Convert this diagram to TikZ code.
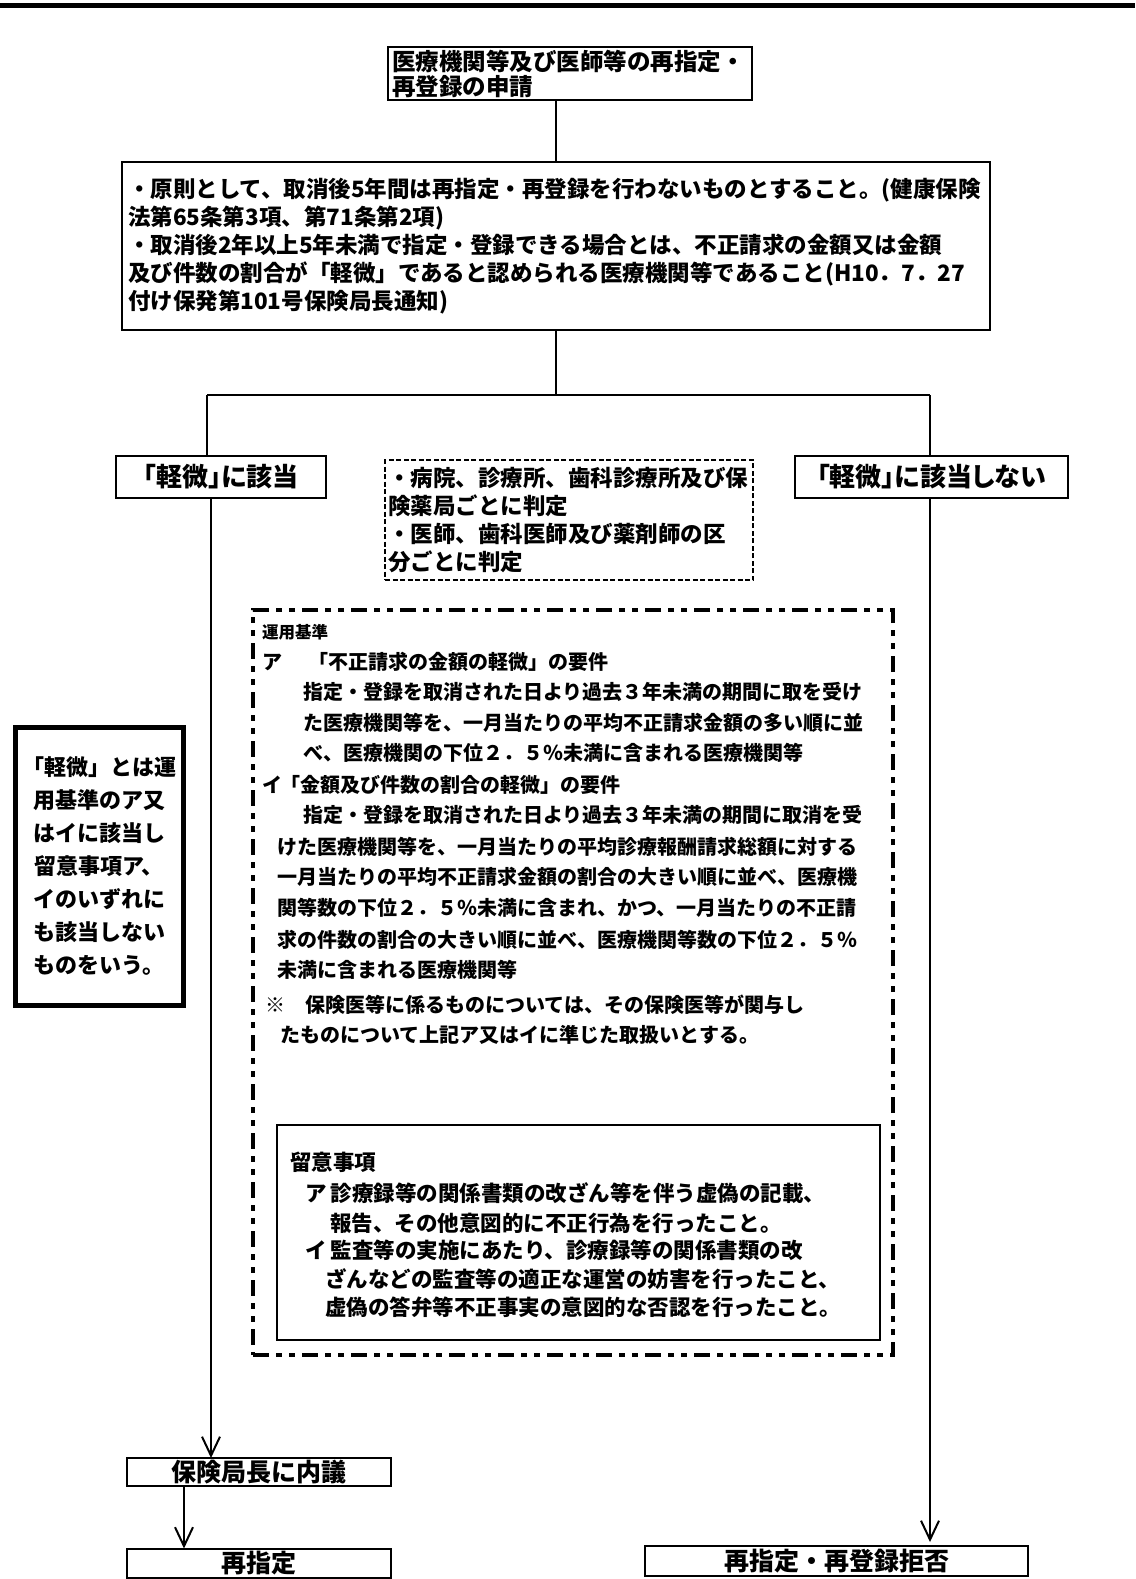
\documentclass[tikz,border=0pt]{standalone}
\usepackage{fontspec}
\setmainfont{Noto Sans CJK JP}
\newfontfamily\jpp{Noto Sans CJK JP}[RawFeature=+palt]
\usetikzlibrary{arrows.meta}
\begin{document}
\begin{tikzpicture}[x=1pt,y=-1pt,
  box/.style={draw, line width=2pt, inner sep=0pt, outer sep=0pt},
  conn/.style={line width=2pt},
  arr/.style={line width=2pt, -{Straight Barb[length=19pt,width=18pt,line width=2pt]}},
  ut/.style={inner sep=0pt, anchor=west, font=\bfseries\fontsize{20}{20}\selectfont},
  rt/.style={inner sep=0pt, anchor=west, font=\bfseries\fontsize{21.5}{21.5}\selectfont},
]
\useasboundingbox (0,0) rectangle (1135,1579);
\fill[white] (0,0) rectangle (1135,1579);
% top rule
\draw[line width=5pt] (0,6) -- (1135,6);

% top request box
\node[box, line width=2.5pt, minimum width=364pt, minimum height=53pt, text width=356pt, inner xsep=4pt, align=left,
  font=\bfseries\fontsize{23.5}{25}\selectfont] (req) at (570,73.5)
  {医療機関等及び医師等の再指定・\\再登録の申請};

% principle box
\node[box, minimum width=868pt, minimum height=168pt, text width=856pt, inner xsep=6pt, align=left,
  font=\bfseries\fontsize{22.5}{28}\selectfont] (rule) at (556,246)
  {・原則として、取消後5年間は再指定・再登録を行わないものとすること。(健康保険\\
   法第65条第3項、第71条第2項)\\
   ・取消後2年以上5年未満で指定・登録できる場合とは、不正請求の金額又は金額\\
   及び件数の割合が「軽微」であると認められる医療機関等であること(H10．7．27\\
   付け保発第101号保険局長通知)};

\draw[conn] (req.south -| rule.north) -- (rule.north);

\coordinate (jc) at (556,395);
\coordinate (jl) at (207,395);
\coordinate (jr) at (930,395);
\coordinate (xl) at (211,0);
\coordinate (xl2) at (184,0);

% branch boxes
\node[box, minimum width=210pt, minimum height=42pt, font=\jpp\bfseries\fontsize{26}{26}\selectfont] (gai) at (221,477) {「軽微」に該当};
\node[box, minimum width=273pt, minimum height=42pt, font=\jpp\bfseries\fontsize{26}{26}\selectfont] (hgai) at (931.5,477) {「軽微」に該当しない};

\draw[conn] (rule.south) -- (jc);
\draw[conn] (jl) -- (jr);
\draw[conn] (jl) -- (jl |- gai.north);
\draw[conn] (jr) -- (jr |- hgai.north);

% middle dashed box
\node[draw, line width=1.5pt, dash pattern=on 5pt off 2.5pt, inner sep=0pt, inner xsep=3pt,
  minimum width=368pt, minimum height=120pt, text width=362pt, align=left,
  font=\bfseries\fontsize{22.5}{27.7}\selectfont] (hantei) at (569,520)
  {・病院、診療所、歯科診療所及び保\\険薬局ごとに判定\\・医師、歯科医師及び薬剤師の区\\分ごとに判定};

% big dash-dot box
\node[draw, line width=4.5pt, dash pattern=on 16pt off 7pt on 6pt off 7pt on 6pt off 7pt,
  inner sep=0pt, minimum width=640pt, minimum height=745pt] (unyo) at (573,982.5) {};

\node[ut, font=\bfseries\fontsize{16.5}{16.5}\selectfont] (u0) at (262,632) {運用基準};
\node[ut] (u1a) at (262,662) {ア};
\node[ut] (u1b) at (308,662) {「不正請求の金額の軽微」の要件};
\node[ut] (u2) at (303,692) {指定・登録を取消された日より過去３年未満の期間に取を受け};
\node[ut] (u3) at (303,723) {た医療機関等を、一月当たりの平均不正請求金額の多い順に並};
\node[ut] (u4) at (303,753) {べ、医療機関の下位２．５％未満に含まれる医療機関等};
\node[ut] (u5a) at (262,785) {イ};
\node[ut] (u5b) at (280,785) {「金額及び件数の割合の軽微」の要件};
\node[ut] (u6) at (303,815) {指定・登録を取消された日より過去３年未満の期間に取消を受};
\node[ut] (u7) at (277,847) {けた医療機関等を、一月当たりの平均診療報酬請求総額に対する};
\node[ut] (u8) at (277,877) {一月当たりの平均不正請求金額の割合の大きい順に並べ、医療機};
\node[ut] (u9) at (277,908) {関等数の下位２．５％未満に含まれ、かつ、一月当たりの不正請};
\node[ut] (u10) at (277,940) {求の件数の割合の大きい順に並べ、医療機関等数の下位２．５％};
\node[ut] (u11) at (277,970) {未満に含まれる医療機関等};
\node[ut] (u12a) at (265,1005) {※};
\node[ut] (u12b) at (305,1005) {保険医等に係るものについては、その保険医等が関与し};
\node[ut] (u13) at (280,1035) {たものについて上記ア又はイに準じた取扱いとする。};

% notes box
\node[draw, line width=1.5pt, inner sep=0pt, minimum width=603pt, minimum height=215pt] (ryui) at (578.5,1232.5) {};
\node[rt] (r0) at (290,1162) {留意事項};
\node[rt] (r1) at (305,1193) {ア\hspace{4pt}診療録等の関係書類の改ざん等を伴う虚偽の記載、};
\node[rt] (r2) at (330,1223) {報告、その他意図的に不正行為を行ったこと。};
\node[rt] (r3) at (305,1250) {イ\hspace{4pt}監査等の実施にあたり、診療録等の関係書類の改};
\node[rt] (r4) at (325,1279) {ざんなどの監査等の適正な運営の妨害を行ったこと、};
\node[rt] (r5) at (325,1307) {虚偽の答弁等不正事実の意図的な否認を行ったこと。};

% definition box (thick)
\node[draw, line width=5pt, inner sep=0pt, minimum width=168pt, minimum height=278pt, align=center,
  font=\bfseries\fontsize{22}{33}\selectfont] (teigi) at (99,866)
  {「軽微」とは運\\用基準のア又\\はイに該当し\\留意事項ア、\\イのいずれに\\も該当しない\\ものをいう。};

% bottom boxes
\node[box, minimum width=264pt, minimum height=28pt, font=\bfseries\fontsize{25}{25}\selectfont] (naigi) at (259,1472) {保険局長に内議};
\node[box, minimum width=264pt, minimum height=29pt, font=\bfseries\fontsize{25}{25}\selectfont] (saishitei) at (259,1563) {再指定};
\node[box, minimum width=383pt, minimum height=30pt, font=\bfseries\fontsize{25}{25}\selectfont] (kyohi) at (836.5,1561) {再指定・再登録拒否};

% arrows
\draw[arr] (gai.south -| xl) -- (naigi.north -| xl);
\draw[arr] (naigi.south -| xl2) -- (saishitei.north -| xl2);
\draw[arr, shorten >=4pt] (hgai.south -| jr) -- (kyohi.north -| jr);
\end{tikzpicture}
\end{document}
